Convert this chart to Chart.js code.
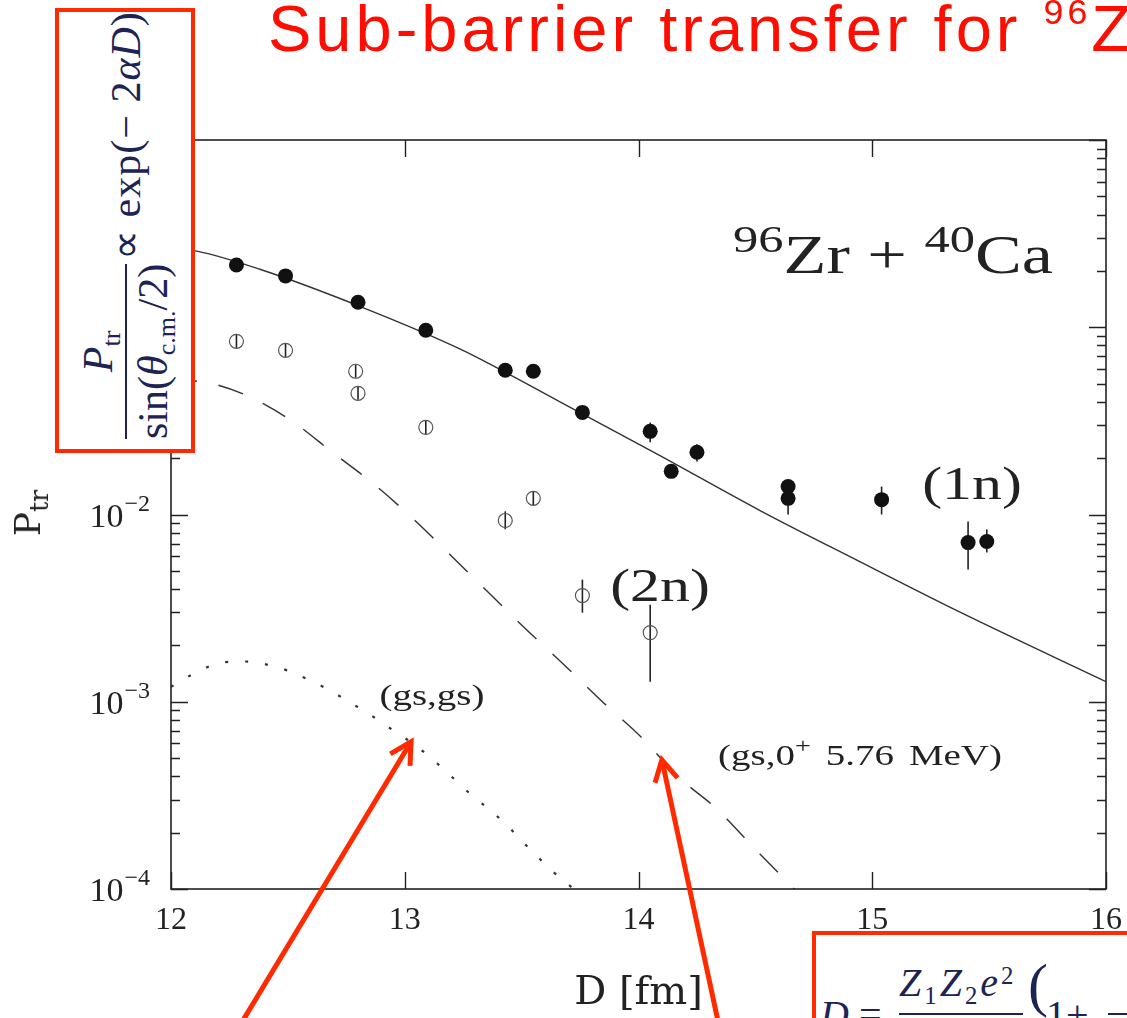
<!DOCTYPE html>
<html lang="en">
<head>
<meta charset="utf-8">
<title>Sub-barrier transfer 96Zr+40Ca</title>
<script src="https://cdn.jsdelivr.net/npm/chart.js@4.4.1/dist/chart.umd.min.js"></script>
<style>
  html, body { margin: 0; padding: 0; background: #fff; }
  #stage { position: relative; width: 1127px; height: 1018px; overflow: hidden; background: #fff; }
  #chart { position: absolute; left: 0; top: 0; }
  #title { position: absolute; left: 268px; top: -4px; font-family: 'Liberation Sans', 'Noto Sans', sans-serif; font-size: 65px; line-height: 1; color: #ff0d00; letter-spacing: 4px; white-space: nowrap; }
  #title .tsup { font-size: 0.55em; position: relative; top: -0.75em; }
  .fl { position: absolute; font-family: 'Liberation Serif', serif; color: #222; line-height: 1; white-space: nowrap; transform: translate(-50%, -50%) scaleX(1.3); }
  .fl .sup { font-size: 0.72em; position: relative; top: -0.55em; }
  .fl .sub { font-size: 0.7em; position: relative; top: 0.3em; }
  #ylab { position: absolute; font-family: 'DejaVu Serif', serif; font-size: 36px; color: #222; line-height: 1; white-space: nowrap; transform: translate(-50%, -50%) rotate(-90deg); }
  #ylab .sub { font-size: 0.7em; position: relative; top: 0.3em; }
  .redbox { position: absolute; box-sizing: border-box; border: 4px solid #ff2a00; background: #fff; overflow: hidden; }
  #boxL { left: 55px; top: 8px; width: 140px; height: 445px; }
  #formL { position: absolute; left: 0; top: 437px; width: 437px; height: 132px; transform-origin: 0 0; transform: rotate(-90deg);
           display: flex; align-items: center; padding-left: 10px; box-sizing: border-box;
           font-family: 'Liberation Serif', serif; font-size: 42px; color: #1d2352; white-space: nowrap; }
  #formL .frac { display: inline-flex; flex-direction: column; align-items: center; }
  #formL .num { padding-bottom: 3px; }
  #formL .den { border-top: 2px solid #1d2352; padding-top: 2px; }
  #formL .rest { margin-left: 4px; letter-spacing: 1px; }
  .sb { font-size: 0.62em; position: relative; top: 0.32em; }
  .sp { font-size: 0.62em; position: relative; top: -0.5em; }
  #boxB { left: 812px; top: 931px; width: 340px; height: 120px; }
  #boxB > span, #boxB > div { position: absolute; font-family: 'Liberation Serif', serif; color: #1d2352; line-height: 1; white-space: nowrap; }
  #boxB .bar { height: 2px; background: #1d2352; }
</style>
</head>
<body>
<div id="stage">
  <canvas id="chart" width="1127" height="1018"></canvas>

  <div id="title">Sub-barrier transfer for <span class="tsup">96</span>Z</div>

  <div class="fl" style="left:893px; top:255px; font-size:54px;"><span class="sup">96</span>Zr + <span class="sup">40</span>Ca</div>
  <div class="fl" style="left:972px; top:484px; font-size:46px;">(1n)</div>
  <div class="fl" style="left:660px; top:586px; font-size:46px;">(2n)</div>
  <div class="fl" style="left:432px; top:695px; font-size:30px;">(gs,gs)</div>
  <div class="fl" style="left:860px; top:755px; font-size:30px; word-spacing:4px;">(gs,0<span class="sup">+</span> 5.76 MeV)</div>
  <div id="ylab" style="left:28px; top:513px;">P<span class="sub">tr</span></div>

  <div class="redbox" id="boxL">
    <div id="formL">
      <span class="frac">
        <span class="num"><i>P</i><span class="sb">tr</span></span>
        <span class="den">sin(<i>θ</i><span class="sb">c.m.</span>/2)</span>
      </span>
      <span class="rest">∝ exp(− 2<i>αD</i>)</span>
    </div>
  </div>

  <div class="redbox" id="boxB">
    <span style="left:4px; top:60px; font-size:40px;"><i>D</i> =</span>
    <span style="left:83px; top:28px; font-size:40px; letter-spacing:3px;"><i>Z</i><span class="sb">1</span><i>Z</i><span class="sb">2</span><i>e</i><span class="sp">2</span></span>
    <div class="bar" style="left:83px; top:78px; width:124px;"></div>
    <span style="left:212px; top:20px; font-size:60px;">(</span>
    <span style="left:230px; top:60px; font-size:40px;">1+</span>
    <div class="bar" style="left:292px; top:78px; width:40px;"></div>
  </div>
</div>

<script>
// (1n) measured points
const dOneN = [12.28, 12.49, 12.80, 13.09, 13.43, 13.55, 13.76, 14.05, 14.14, 14.25, 14.64, 14.64, 15.04, 15.41, 15.49];
const pOneN = [0.215, 0.188, 0.136, 0.0964, 0.0589, 0.0582, 0.0351, 0.0278, 0.0170, 0.0215, 0.0141, 0.0122, 0.0120, 0.00708, 0.00718];
const pOneNLow = [null, null, null, null, null, null, null, 0.0243, null, 0.0192, null, 0.0100, 0.0100, 0.00508, 0.00627];
const pOneNHigh = [null, null, null, null, null, null, null, 0.0310, null, 0.0237, null, 0.0141, 0.0141, 0.00918, 0.00832];

// (2n) measured points
const dTwoN = [12.28, 12.49, 12.79, 12.80, 13.09, 13.43, 13.55, 13.76, 14.05];
const pTwoN = [0.0841, 0.0753, 0.0582, 0.0444, 0.0292, 0.00929, 0.0122, 0.00369, 0.00234];
const pTwoNLow = [0.0776, 0.0695, 0.0537, 0.0410, 0.0269, 0.00834, 0.0112, 0.00299, 0.00128];
const pTwoNHigh = [0.0912, 0.0816, 0.0631, 0.0481, 0.0316, 0.0104, 0.0132, 0.00449, 0.00330];

// theory curves
const dCalcOneN = [12.00, 12.11, 12.38, 12.81, 13.24, 13.66, 14.09, 14.52, 14.93, 15.38, 16.00];
const pCalcOneN = [0.264, 0.255, 0.204, 0.129, 0.0762, 0.0402, 0.0207, 0.0105, 0.00574, 0.00299, 0.00128];

const dCalcExc = [12.00, 12.17, 12.34, 12.52, 12.69, 12.86, 13.03, 13.28, 13.52, 13.69, 13.85, 14.01, 14.17, 14.33, 14.49, 14.65, 14.80];
const pCalcExc = [0.0527, 0.0502, 0.0423, 0.0314, 0.0215, 0.0148, 0.00964, 0.00478, 0.00243, 0.00154, 0.000989, 0.000650, 0.000397, 0.000271, 0.000168, 0.000105, 0.0000680];

const dCalcGs = [12.00, 12.05, 12.13, 12.22, 12.32, 12.41, 12.51, 12.60, 12.68, 12.76, 12.84, 12.92, 13.00, 13.08, 13.15, 13.22, 13.29, 13.37, 13.44, 13.50, 13.57, 13.64, 13.71, 13.75];
const pCalcGs = [0.00120, 0.00131, 0.00148, 0.00162, 0.00164, 0.00158, 0.00145, 0.00129, 0.00115, 0.00100, 0.000873, 0.000745, 0.000641, 0.000541, 0.000455, 0.000378, 0.000314, 0.000261, 0.000217, 0.000181, 0.000148, 0.000122, 0.000103, 0.0000891];

// axes
const xTicks = [12, 13, 14, 15, 16];
const yDecades = [1e-4, 1e-3, 1e-2, 1e-1, 1];
const yExponents = ['−4', '−3', '−2', '−1', '0'];
const yMinorSteps = [2, 3, 4, 5, 6, 7, 8, 9];

// red arrows (tail -> tip, in data units)
const arrowTails = [[12.295, 1.87e-5], [14.344, 1.87e-5]];
const arrowTips = [[13.027, 6.11e-4], [14.100, 4.90e-4]];

const INK = '#222';
const RED = '#ff2a00';

const toPoints = (xs, ys) => xs.map((x, i) => ({ x, y: ys[i] }));

const yTickValues = [];
yDecades.forEach((d, i) => {
  yTickValues.push(d);
  if (i < yDecades.length - 1) yMinorSteps.forEach(m => yTickValues.push(m * d));
});

const errorBars = {
  id: 'errorBars',
  beforeDatasetsDraw(chart) {
    const { ctx, chartArea: a, scales: { x, y } } = chart;
    ctx.save();
    ctx.beginPath();
    ctx.rect(a.left, a.top, a.right - a.left, a.bottom - a.top);
    ctx.clip();
    ctx.strokeStyle = INK;
    ctx.lineWidth = 1.6;
    chart.data.datasets.forEach(ds => {
      if (!ds.errLow) return;
      ds.data.forEach((pt, i) => {
        if (ds.errLow[i] == null) return;
        const px = x.getPixelForValue(pt.x);
        ctx.beginPath();
        ctx.moveTo(px, y.getPixelForValue(ds.errLow[i]));
        ctx.lineTo(px, y.getPixelForValue(ds.errHigh[i]));
        ctx.stroke();
      });
    });
    ctx.restore();
  }
};

// frame, inward ticks on all four sides, and 10^n labels
const frameTicks = {
  id: 'frameTicks',
  afterDatasetsDraw(chart) {
    const { ctx, chartArea: a, scales: { x, y } } = chart;
    ctx.save();
    ctx.strokeStyle = INK;
    ctx.lineWidth = 1.6;
    ctx.strokeRect(a.left, a.top, a.right - a.left, a.bottom - a.top);

    ctx.lineWidth = 1.4;
    ctx.beginPath();
    y.ticks.forEach(t => {
      const py = Math.round(y.getPixelForValue(t.value)) + 0.5;
      const len = yDecades.includes(t.value) ? 17 : 9;
      ctx.moveTo(a.left, py); ctx.lineTo(a.left + len, py);
      ctx.moveTo(a.right, py); ctx.lineTo(a.right - len, py);
    });
    x.ticks.forEach(t => {
      const px = Math.round(x.getPixelForValue(t.value)) + 0.5;
      ctx.moveTo(px, a.bottom); ctx.lineTo(px, a.bottom - 17);
      ctx.moveTo(px, a.top); ctx.lineTo(px, a.top + 17);
    });
    ctx.stroke();

    ctx.fillStyle = INK;
    ctx.textBaseline = 'alphabetic';
    const rightEdge = a.left - 21;
    yDecades.forEach((d, i) => {
      const py = y.getPixelForValue(d);
      ctx.font = '24px "Liberation Serif", serif';
      const expW = ctx.measureText(yExponents[i]).width;
      ctx.textAlign = 'left';
      ctx.fillText(yExponents[i], rightEdge - expW, py - 4);
      ctx.font = '34px "Liberation Serif", serif';
      ctx.textAlign = 'right';
      ctx.fillText('10', rightEdge - expW - 1, py + 12);
    });
    ctx.restore();
  }
};

const arrows = {
  id: 'arrows',
  afterDraw(chart) {
    const { ctx, scales: { x, y } } = chart;
    ctx.save();
    ctx.strokeStyle = RED;
    ctx.lineWidth = 5;
    ctx.lineCap = 'butt';
    ctx.lineJoin = 'miter';
    arrowTails.forEach((tail, i) => {
      const x0 = x.getPixelForValue(tail[0]), y0 = y.getPixelForValue(tail[1]);
      const x1 = x.getPixelForValue(arrowTips[i][0]), y1 = y.getPixelForValue(arrowTips[i][1]);
      const ang = Math.atan2(y1 - y0, x1 - x0);
      ctx.beginPath();
      ctx.moveTo(x0, y0);
      ctx.lineTo(x1 - 2 * Math.cos(ang), y1 - 2 * Math.sin(ang));
      ctx.stroke();
      ctx.beginPath();
      ctx.moveTo(x1 - 24 * Math.cos(ang - 0.5), y1 - 24 * Math.sin(ang - 0.5));
      ctx.lineTo(x1, y1);
      ctx.lineTo(x1 - 24 * Math.cos(ang + 0.5), y1 - 24 * Math.sin(ang + 0.5));
      ctx.stroke();
    });
    ctx.restore();
  }
};

const ctx = document.getElementById('chart').getContext('2d');
new Chart(ctx, {
  type: 'scatter',
  data: {
    datasets: [
      {
        label: '(1n)',
        data: toPoints(dOneN, pOneN),
        errLow: pOneNLow,
        errHigh: pOneNHigh,
        pointStyle: 'circle',
        pointRadius: 7.5,
        backgroundColor: '#111',
        borderColor: '#111',
        borderWidth: 0
      },
      {
        label: '(2n)',
        data: toPoints(dTwoN, pTwoN),
        errLow: pTwoNLow,
        errHigh: pTwoNHigh,
        pointStyle: 'circle',
        pointRadius: 7,
        backgroundColor: 'rgba(255,255,255,0)',
        borderColor: '#555',
        borderWidth: 1.2
      },
      {
        label: '(1n) calc',
        data: toPoints(dCalcOneN, pCalcOneN),
        showLine: true,
        pointRadius: 0,
        borderColor: '#333',
        borderWidth: 1.4,
        cubicInterpolationMode: 'monotone'
      },
      {
        label: '(gs,0+ 5.76 MeV)',
        data: toPoints(dCalcExc, pCalcExc),
        showLine: true,
        pointRadius: 0,
        borderColor: '#333',
        borderWidth: 1.4,
        borderDash: [26, 22],
        cubicInterpolationMode: 'monotone'
      },
      {
        label: '(gs,gs)',
        data: toPoints(dCalcGs, pCalcGs),
        showLine: true,
        pointRadius: 0,
        borderColor: '#333',
        borderWidth: 2.2,
        borderDash: [3, 17],
        cubicInterpolationMode: 'monotone'
      }
    ]
  },
  options: {
    responsive: false,
    animation: false,
    devicePixelRatio: 1,
    layout: { padding: { top: 140, right: 21, left: 0, bottom: 0 } },
    plugins: {
      legend: { display: false },
      tooltip: { enabled: false }
    },
    scales: {
      x: {
        type: 'linear',
        min: 12,
        max: 16,
        afterBuildTicks: scale => { scale.ticks = xTicks.map(v => ({ value: v })); },
        afterFit: scale => {
          scale.height = 129;
          scale.paddingLeft = 0;
          scale.paddingRight = 0;
        },
        grid: { display: false, drawTicks: false },
        border: { display: false },
        ticks: {
          padding: 12,
          autoSkip: false,
          maxRotation: 0,
          color: INK,
          font: { family: 'Liberation Serif', size: 32 },
          callback: v => String(v)
        },
        title: {
          display: true,
          text: 'D [fm]',
          color: INK,
          font: { family: 'DejaVu Serif', size: 40 },
          padding: { top: 0, bottom: 0 }
        }
      },
      y: {
        type: 'logarithmic',
        min: 1e-4,
        max: 1,
        afterBuildTicks: scale => { scale.ticks = yTickValues.map(v => ({ value: v })); },
        afterFit: scale => {
          scale.width = 171;
          scale.paddingTop = 0;
          scale.paddingBottom = 0;
        },
        grid: { display: false, drawTicks: false },
        border: { display: false },
        ticks: { display: false }
      }
    }
  },
  plugins: [errorBars, frameTicks, arrows]
});
</script>
</body>
</html>
